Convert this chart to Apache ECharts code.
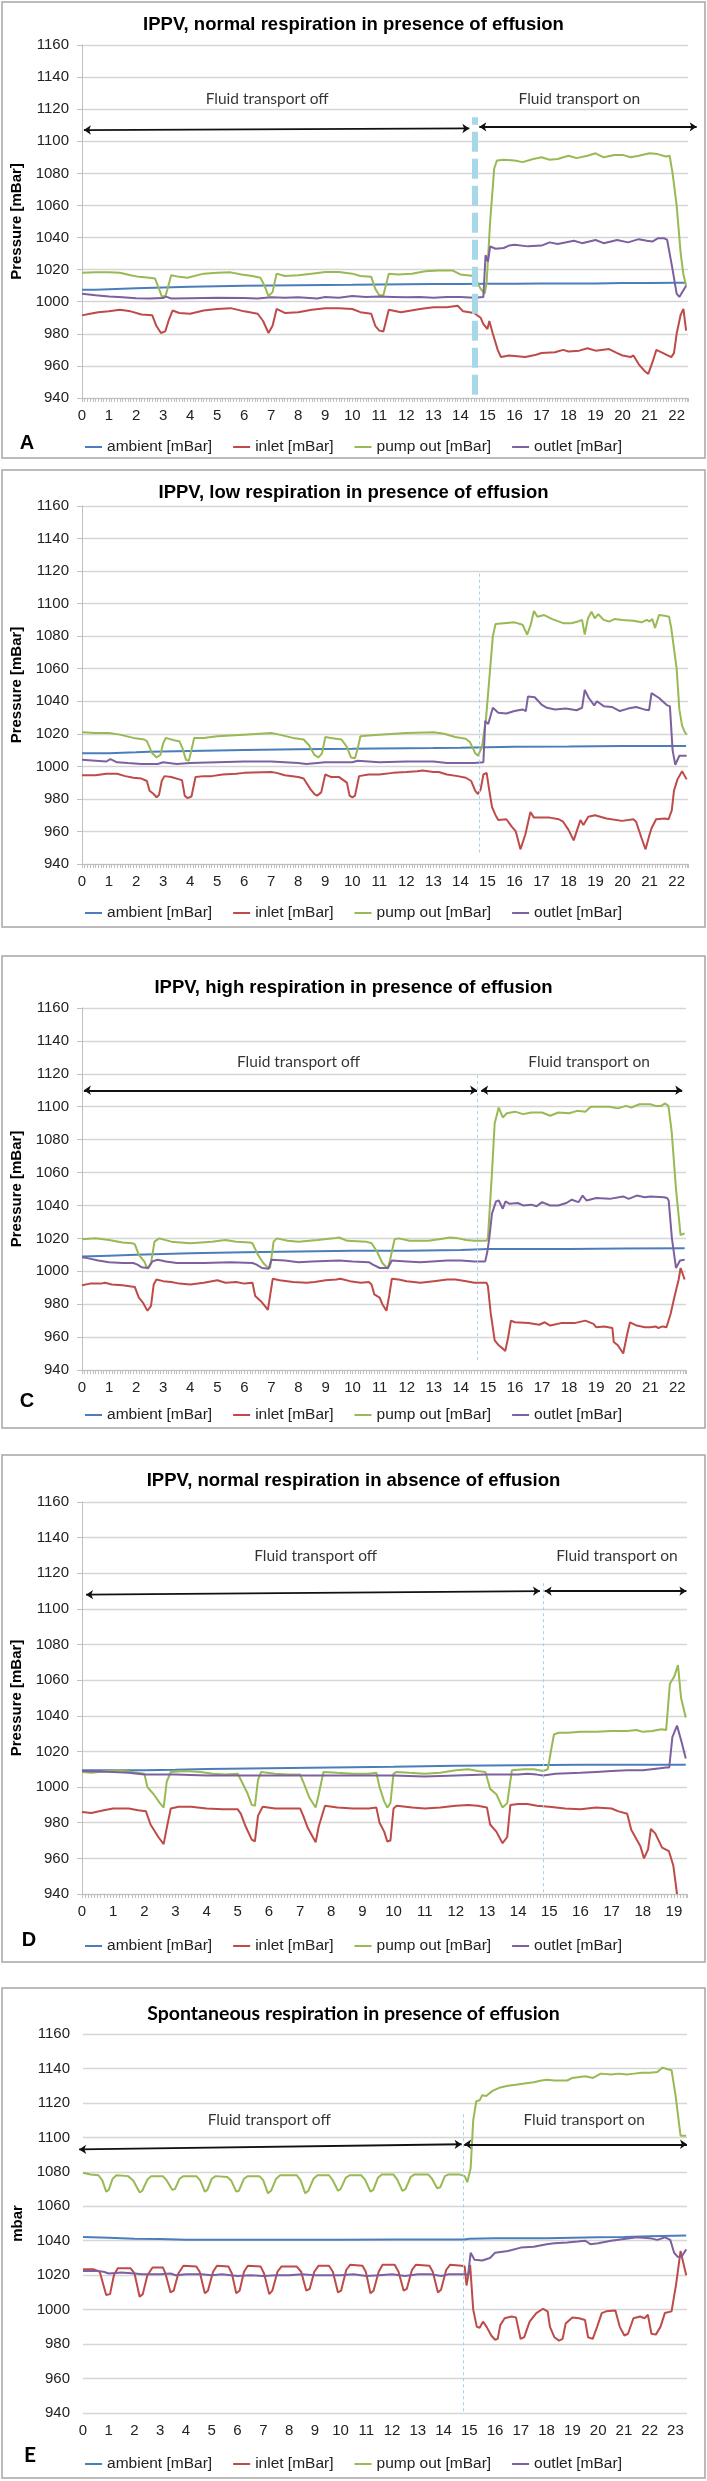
<!DOCTYPE html>
<html><head><meta charset="utf-8">
<script src="https://cdn.jsdelivr.net/npm/echarts@6/dist/echarts.min.js"></script>
<style>html,body{margin:0;padding:0;background:#fff}#c{width:707px;height:2481px}</style>
</head><body><div id="c"></div>
<script>
// ---------- DATA ----------
const SERIES_NAMES = ['ambient [mBar]', 'inlet [mBar]', 'pump out [mBar]', 'outlet [mBar]'];
const TITLES = [
  'IPPV, normal respiration in presence of effusion',
  'IPPV, low respiration in presence of effusion',
  'IPPV, high respiration in presence of effusion',
  'IPPV, normal respiration in absence of effusion',
  'Spontaneous respiration in presence of effusion'
];
const Y_NAMES = ['Pressure [mBar]', 'Pressure [mBar]', 'Pressure [mBar]', 'Pressure [mBar]', 'mbar'];
const LETTERS = ['A', '', 'C', 'D', 'E'];
const Y_MIN = 940, Y_MAX = 1160, Y_STEP = 20;
const X_MAX = [22.42, 22.42, 22.32, 19.42, 23.45];
const TEXT_OFF = 'Fluid transport off', TEXT_ON = 'Fluid transport on';

// Panel A
const A_ambient = [[0,1007.5],[0.5,1007.5],[1,1007.8],[2,1008.4],[3,1008.9],[4,1009.3],[5,1009.6],[6,1009.9],[7,1010.1],[8,1010.3],[9,1010.5],[10,1010.6],[11,1010.8],[12,1010.9],[13,1011],[14,1011.1],[15,1011.2],[16,1011.2],[17,1011.3],[18,1011.3],[19,1011.4],[20,1011.6],[21,1011.7],[22,1011.8],[22.35,1011.8]];
const A_inlet = [[0,991.5],[0.3,992.5],[0.6,993.5],[1,994],[1.4,995],[1.8,994],[2.2,992],[2.6,991.5],[2.75,985],[2.92,980.5],[3.08,981.5],[3.2,988],[3.35,994.5],[3.6,993],[4,992.5],[4.5,994.5],[5,995.5],[5.5,996],[6,994],[6.5,992.5],[6.7,988],[6.9,980.5],[7.05,985],[7.2,995.5],[7.5,993],[8,993.5],[8.5,995],[9,996],[9.5,996],[10,995.5],[10.3,993.5],[10.7,992.5],[10.85,985],[11.0,982],[11.15,981.5],[11.35,995],[11.8,993.5],[12.5,995.5],[13,996.5],[13.5,996.5],[13.9,997.5],[14.1,994],[14.5,993],[14.75,990],[14.85,986],[15.0,983],[15.07,988],[15.2,980],[15.38,970],[15.5,965.5],[15.8,966.5],[16.1,966],[16.4,965.5],[16.8,967],[17.0,968],[17.5,968.5],[17.8,970],[18.0,969],[18.4,969.5],[18.7,971],[19.0,969.5],[19.5,970.5],[19.8,968],[20.0,966.5],[20.3,965.5],[20.4,966.5],[20.6,961],[20.8,957],[20.95,955],[21.1,962],[21.25,970],[21.5,968],[21.8,965.5],[21.9,968],[22.0,980],[22.15,992],[22.25,995.5],[22.35,982]];
const A_pump = [[0,1018],[0.5,1018.3],[1,1018.3],[1.4,1018],[1.8,1016.5],[2.1,1015.5],[2.5,1015],[2.7,1014.5],[2.85,1008],[2.96,1003],[3.1,1004],[3.3,1016.5],[3.6,1015.5],[3.9,1015],[4.5,1017.5],[5,1018],[5.5,1018.3],[5.9,1017],[6.3,1016],[6.6,1015],[6.75,1010],[6.9,1003.5],[7.05,1006],[7.2,1017.5],[7.5,1016],[8,1016.5],[8.5,1017.5],[9,1018.5],[9.5,1018.5],[10,1017.5],[10.3,1016],[10.7,1015.5],[10.85,1008],[11.0,1004],[11.15,1004],[11.35,1017.5],[11.7,1017],[12.2,1017.5],[12.7,1019],[13.2,1019.5],[13.7,1019.5],[14.0,1017],[14.5,1016],[14.75,1008],[14.9,1005],[14.97,1012],[15.1,1050],[15.25,1083],[15.35,1088],[15.6,1088.5],[16,1088],[16.3,1087],[16.7,1089],[17,1090],[17.3,1088.5],[17.6,1089],[18,1091],[18.3,1089.5],[18.7,1091],[19,1092.5],[19.3,1090],[19.7,1091.5],[20,1091.5],[20.3,1090],[20.6,1091],[21,1092.5],[21.3,1092],[21.6,1090.5],[21.74,1091],[21.85,1080],[22.0,1060],[22.15,1030],[22.25,1017],[22.35,1010]];
const A_outlet = [[0,1005],[0.5,1004],[1,1003.3],[1.5,1002.8],[2,1002.2],[2.5,1002],[3,1002.3],[3.1,1003.2],[3.3,1002],[4,1002.2],[5,1002.5],[6,1002.3],[6.5,1002],[7,1002.8],[7.5,1002.5],[8,1002.8],[8.7,1002],[9,1003],[9.5,1002.5],[10,1003.5],[10.5,1003],[11,1003.2],[11.5,1003],[12,1002.8],[12.5,1003],[13,1002.5],[13.5,1003],[14,1003],[14.5,1002.5],[14.85,1003],[14.93,1029],[15.02,1025],[15.1,1034.5],[15.3,1033],[15.6,1033.5],[15.8,1035],[16,1035.5],[16.5,1034.5],[17,1035],[17.3,1037],[17.6,1036],[18.2,1038],[18.5,1036.5],[19,1038.5],[19.3,1036.5],[19.8,1038.5],[20.2,1037],[20.6,1039],[20.9,1038],[21.1,1037.5],[21.3,1039.5],[21.55,1039.5],[21.65,1038.5],[21.85,1020],[22.0,1005],[22.1,1003],[22.35,1010]];

// Panel B
const B_ambient = [[0,1008],[1,1008],[2,1008.6],[2.5,1009],[4,1009.5],[6,1010],[8,1010.5],[10,1010.8],[11,1011],[13,1011.3],[14,1011.5],[16,1012],[18,1012.2],[20,1012.5],[22.35,1012.5]];
const B_inlet = [[0,994.5],[0.5,994.5],[0.9,995.5],[1.3,995.5],[1.6,994],[1.9,993],[2.2,992.5],[2.4,991],[2.5,985],[2.65,983],[2.76,981],[2.85,982.5],[2.95,991],[3.05,994],[3.3,993.5],[3.6,992],[3.7,991.5],[3.8,982],[3.9,980.5],[4.05,981.5],[4.2,993.5],[4.5,994],[4.8,994],[5.2,995],[5.7,995.5],[6.0,996],[7.0,996.5],[7.2,996],[7.5,994.5],[8.0,993.5],[8.2,992.5],[8.45,986],[8.6,983],[8.7,982],[8.85,984],[9.0,995],[9.2,993.5],[9.5,993.5],[9.8,990],[9.9,982],[10.0,981],[10.1,982],[10.25,994],[10.6,995],[11,995],[11.5,996],[12,996.5],[12.4,997],[12.6,997.5],[13.0,996.5],[13.2,996.5],[13.5,995],[13.9,994],[14.2,993],[14.4,991],[14.55,985],[14.65,983],[14.75,986],[14.85,995],[14.97,996],[15.07,985],[15.17,975],[15.3,970],[15.4,967],[15.7,967.5],[15.9,963],[16.05,960],[16.22,949],[16.4,958],[16.59,972],[16.72,968.5],[17.3,968.5],[17.64,967.5],[17.8,966],[18.0,961],[18.19,954.5],[18.44,967],[18.55,964],[18.73,969],[18.98,970],[19.4,968],[19.98,966.5],[20.4,967.5],[20.5,966],[20.62,960],[20.7,956],[20.85,949],[20.98,957],[21.07,962],[21.24,967.5],[21.57,968],[21.7,967.5],[21.82,973],[21.9,985],[22.03,992],[22.2,997],[22.37,992]];
const B_pump = [[0,1021],[0.5,1020.5],[1.0,1020.5],[1.05,1021],[1.4,1019.5],[1.9,1017.5],[2.3,1016.5],[2.4,1015.5],[2.6,1008],[2.76,1005.5],[2.9,1007],[3.0,1014],[3.1,1017.5],[3.4,1016],[3.6,1015.5],[3.72,1011],[3.85,1004],[3.95,1003.5],[4.05,1010],[4.15,1017.5],[4.5,1017.5],[5,1018.5],[6,1019.5],[7,1020.5],[7.3,1019.5],[7.8,1017.5],[8.2,1016.5],[8.4,1013],[8.6,1007],[8.75,1005.5],[8.88,1008],[9.0,1018],[9.2,1017.5],[9.6,1016.5],[9.8,1012],[9.95,1005.5],[10.1,1005],[10.2,1011],[10.3,1018.5],[10.6,1019],[11,1019.5],[12,1020.5],[13,1021],[13.4,1020],[13.8,1018],[14.2,1017],[14.35,1015],[14.55,1008],[14.65,1006.5],[14.8,1012],[14.95,1030],[15.1,1060],[15.2,1080],[15.3,1087.5],[15.6,1088],[16.0,1088.5],[16.3,1087],[16.47,1081],[16.6,1087],[16.72,1095.5],[16.85,1092],[17.1,1093],[17.4,1090.5],[17.8,1088],[18.1,1088],[18.35,1089],[18.5,1090],[18.6,1081],[18.72,1091],[18.85,1095],[18.97,1091],[19.1,1093.5],[19.3,1090],[19.5,1089],[19.7,1090.5],[20.0,1090],[20.4,1089.5],[20.7,1088.5],[20.9,1090],[21.0,1089],[21.1,1090.5],[21.2,1085],[21.35,1093],[21.55,1092.5],[21.72,1092],[21.8,1085],[22.0,1060],[22.1,1035],[22.2,1025],[22.3,1021],[22.37,1019.5]];
const B_outlet = [[0,1004],[0.5,1003.5],[0.9,1003],[1.05,1004.5],[1.3,1002.5],[1.7,1002],[2.2,1001.5],[2.8,1001.5],[3.0,1002.5],[3.5,1001.5],[4,1002],[5,1002.5],[6,1003],[7,1003],[8,1002],[8.3,1001.5],[9,1002.5],[10,1002.5],[10.2,1003.5],[11,1002.5],[12,1003],[13,1003],[13.5,1002],[14.5,1002],[14.85,1002.5],[14.92,1028],[15.03,1026],[15.2,1036],[15.4,1033],[15.7,1032.5],[16.0,1034],[16.3,1035],[16.42,1034],[16.5,1043],[16.75,1042.5],[17.0,1038],[17.2,1036],[17.5,1035],[17.9,1035.5],[18.3,1034.5],[18.5,1036],[18.6,1047],[18.75,1042],[18.95,1037.5],[19.05,1040],[19.3,1037],[19.6,1036.5],[19.9,1034],[20.2,1035.5],[20.5,1036.5],[20.8,1035],[20.98,1034.5],[21.07,1045],[21.35,1042],[21.55,1039],[21.65,1037.5],[21.75,1037],[21.85,1010],[21.95,1001],[22.1,1006.5],[22.37,1006.5]];

// Panel C
const C_ambient = [[0,1009],[1,1009.5],[2,1010],[3,1010.5],[4,1011],[6,1011.5],[8,1012],[10,1012.5],[12,1012.5],[14,1013],[15,1013.5],[18,1013.5],[20,1013.8],[22.27,1014]];
const C_inlet = [[0,991.5],[0.3,992.5],[0.7,992.5],[0.85,993],[1.1,992],[1.5,991.5],[1.95,990.5],[2.1,984],[2.25,981],[2.35,978],[2.42,976],[2.55,979],[2.65,992],[2.75,995],[3.0,994],[3.3,993.5],[3.6,992.5],[4.0,992],[4.5,993],[4.8,994],[5.0,994.5],[5.3,993],[5.7,993.5],[6.0,992.5],[6.3,993],[6.4,985],[6.6,982],[6.8,978],[6.87,976.5],[6.95,985],[7.05,995.5],[7.3,994.5],[7.8,993.5],[8.3,993],[8.6,993.5],[9.0,994.5],[9.4,995],[9.55,995.5],[9.9,994],[10.3,993],[10.6,993.5],[10.7,992],[10.8,986],[11.0,984],[11.1,980],[11.25,976],[11.35,985],[11.45,995.5],[11.7,995],[12.0,994],[12.5,993],[13.0,994],[13.5,995],[13.8,995],[14.2,994],[14.5,993],[14.95,993],[15.0,991],[15.1,975],[15.25,958],[15.4,955],[15.55,953],[15.64,951.5],[15.75,960],[15.85,970],[16.0,969],[16.5,968.5],[16.9,967.5],[17.1,969],[17.3,967],[17.7,968.5],[18.2,968.5],[18.6,970],[18.9,968],[19.0,966],[19.3,966.5],[19.6,965.5],[19.65,957],[19.8,955],[20.0,950],[20.05,951],[20.15,962],[20.25,969],[20.5,967],[20.8,966],[21.0,966],[21.2,966.5],[21.3,965.5],[21.45,966.5],[21.6,966],[21.75,974],[21.9,985],[22.05,995],[22.12,1002],[22.27,995]];
const C_pump = [[0,1019.5],[0.5,1020],[1,1019],[1.5,1017.5],[1.85,1017],[1.95,1016.5],[2.1,1010],[2.3,1006],[2.42,1001.5],[2.55,1005],[2.68,1018],[2.85,1020],[3.3,1018],[4.0,1017],[4.8,1018],[5.3,1019],[5.7,1018],[6.2,1017.5],[6.3,1017],[6.5,1010],[6.7,1005],[6.85,1002.5],[6.95,1002],[7.08,1018],[7.2,1020],[7.6,1018.5],[8,1018],[8.7,1019],[9.3,1020],[9.5,1020.5],[9.8,1018.5],[10.5,1018],[10.7,1017],[10.9,1012],[11.1,1005],[11.3,1001.5],[11.4,1008],[11.55,1019.5],[11.7,1020],[12.1,1018.5],[12.8,1018.5],[13.2,1019.5],[13.6,1020.5],[13.9,1020],[14.2,1019],[14.5,1018.5],[14.95,1018.5],[15.0,1020],[15.15,1060],[15.25,1090],[15.4,1099.5],[15.55,1093.5],[15.7,1096],[16.0,1097],[16.3,1095.5],[16.6,1096.5],[17.0,1096.5],[17.3,1094.5],[17.6,1096.5],[18.0,1096],[18.3,1097.5],[18.6,1097],[18.8,1100],[19.2,1100],[19.5,1100],[19.8,1099],[20.1,1100.5],[20.3,1099.5],[20.6,1101.5],[21.0,1101.5],[21.2,1100.5],[21.4,1100.5],[21.55,1102],[21.67,1100.5],[21.79,1085],[21.95,1050],[22.12,1022],[22.27,1023]];
const C_outlet = [[0,1008.5],[0.2,1008],[0.6,1006.5],[1.0,1005.5],[1.5,1005],[1.9,1005],[2.05,1004],[2.2,1002.5],[2.45,1002],[2.6,1006],[2.8,1007],[3.1,1006],[3.5,1005],[4.5,1005],[5.5,1005.5],[6.3,1005],[6.45,1004],[6.65,1002],[6.9,1001.5],[7.0,1007],[7.5,1006.5],[8,1005.5],[8.5,1006],[9.5,1006.5],[10,1006],[10.6,1005.5],[10.75,1004],[11.0,1002],[11.3,1002],[11.45,1006.5],[12,1006],[12.5,1005.5],[13.5,1006.5],[14.0,1006.5],[14.5,1006],[14.9,1006],[14.98,1012],[15.05,1020],[15.15,1035],[15.3,1042.5],[15.4,1043],[15.55,1038],[15.65,1042.5],[15.8,1041],[16.1,1041.5],[16.3,1040],[16.6,1040.5],[16.8,1039.5],[17.0,1042],[17.3,1040],[17.6,1040],[17.9,1041.5],[18.1,1043.5],[18.35,1042],[18.5,1046],[18.65,1043],[19.0,1044.5],[19.5,1044],[20.0,1045.5],[20.2,1044],[20.5,1046],[20.8,1045],[21.0,1045.5],[21.5,1045],[21.62,1044.5],[21.68,1043],[21.8,1020],[21.95,1002],[22.1,1006.5],[22.27,1007]];

// Panel D
const D_ambient = [[0,1009.5],[1,1009.5],[2,1009.5],[3,1009.8],[4,1010.2],[6,1010.6],[8,1011],[10,1011.4],[12,1012],[14,1012.3],[16,1012.5],[19.38,1012.5]];
const D_inlet = [[0,986],[0.3,985.5],[0.7,987],[1.0,988],[1.5,988],[1.8,987],[2.05,986.5],[2.2,979],[2.45,972],[2.62,968],[2.72,977],[2.85,988],[3.1,989],[3.5,989],[4.0,988],[4.5,987.5],[5.0,987.5],[5.1,985],[5.25,978],[5.45,970.5],[5.55,969.5],[5.65,984],[5.8,989],[6.2,988],[6.5,988],[7.0,988],[7.1,984],[7.25,977],[7.5,969],[7.6,978],[7.8,989.5],[8.2,988.5],[8.7,988],[9.2,988],[9.45,988.5],[9.55,980],[9.7,975],[9.8,969.5],[9.9,970],[10.0,988],[10.1,989.5],[10.6,988.5],[11.0,988],[11.5,988.5],[12.0,989.5],[12.4,990],[12.7,989.5],[13.0,988.5],[13.1,979],[13.3,975],[13.5,968.5],[13.65,972],[13.75,990],[14.0,990.5],[14.3,990.5],[14.6,989.5],[15.0,989],[15.5,988],[16.0,987.5],[16.5,988.5],[17.0,988],[17.2,986.5],[17.5,985],[17.63,976],[17.92,967],[18.04,960],[18.17,965],[18.26,976.5],[18.4,974],[18.62,966],[18.84,964],[18.98,956],[19.1,940]];
const D_pump = [[0,1008.5],[0.3,1008],[0.8,1009],[1.2,1009.5],[1.6,1008.5],[2.0,1007.5],[2.1,1000],[2.3,996],[2.5,991],[2.62,988.5],[2.72,1003],[2.85,1008.5],[3.3,1009],[3.8,1008.5],[4.2,1007.5],[4.6,1007],[5.0,1007.5],[5.1,1004],[5.3,997],[5.45,990],[5.55,989.5],[5.65,1004],[5.75,1008.5],[6.2,1007.5],[6.6,1007],[7.0,1007],[7.1,1003],[7.3,994],[7.5,988.5],[7.6,996],[7.75,1008.5],[8.2,1008],[8.7,1007.5],[9.2,1007.5],[9.45,1008],[9.55,1000],[9.7,992],[9.8,988.5],[9.9,991],[10.0,1007.5],[10.1,1008.5],[10.5,1008],[11.0,1007.5],[11.5,1008],[12.0,1009.5],[12.4,1010],[12.7,1009],[12.95,1008.5],[13.1,999],[13.3,996],[13.5,988.5],[13.65,991],[13.8,1009.5],[14.2,1010],[14.5,1010],[14.8,1009],[14.95,1010],[15.05,1020],[15.15,1029.5],[15.3,1030.5],[15.6,1030.5],[16,1031],[16.5,1031],[17,1031.5],[17.5,1031.5],[17.8,1032],[18.0,1031],[18.3,1031.5],[18.6,1032.5],[18.75,1032],[18.87,1058],[19.01,1062],[19.13,1068.5],[19.23,1050],[19.38,1039]];
const D_outlet = [[0,1009],[1,1008.5],[1.5,1008],[2,1007],[3,1007],[4,1006.5],[6,1006.5],[8,1006.5],[10,1006.5],[11,1006],[12,1006.5],[13,1007],[14,1007],[14.3,1007.5],[14.6,1007],[14.8,1006.5],[15.2,1007.5],[16,1008],[16.5,1008.5],[17,1009],[17.5,1009.5],[18,1009.5],[18.5,1010.5],[18.75,1011],[18.85,1011],[18.95,1028],[19.1,1034.5],[19.25,1025],[19.38,1016]];

// Panel E
const E_ambient = [[0,1042.2],[1,1041.8],[2,1041.2],[3,1041],[4,1040.6],[6,1040.5],[8,1040.5],[10,1040.5],[12,1040.7],[14,1040.7],[14.8,1040.7],[15,1041.2],[16,1041.4],[18,1041.5],[20,1042],[21,1042.2],[22,1042.6],[23.42,1043]];
const E_inlet = [[0,1023.5],[0.4,1023.5],[0.65,1022],[0.9,1008.5],[1.05,1009],[1.2,1020],[1.35,1024],[1.85,1024],[2.0,1021],[2.2,1007.5],[2.32,1009],[2.5,1020],[2.7,1024.5],[3.1,1024.5],[3.2,1021],[3.4,1010],[3.52,1011],[3.7,1021],[3.9,1025.5],[4.4,1025],[4.53,1022],[4.73,1009.5],[4.85,1011],[5.05,1022],[5.2,1025.5],[5.65,1025],[5.78,1021],[5.95,1009.5],[6.08,1011],[6.25,1022],[6.4,1025.5],[6.9,1025],[7.03,1021],[7.23,1009],[7.35,1011],[7.55,1022],[7.7,1025],[8.3,1025],[8.47,1022],[8.67,1011],[8.8,1012],[8.98,1022],[9.15,1025.5],[9.55,1025.5],[9.7,1022],[9.9,1010],[10.02,1011],[10.22,1023],[10.37,1026],[10.85,1025.5],[10.98,1022],[11.16,1009.5],[11.28,1011],[11.48,1022],[11.63,1026],[12.1,1026],[12.25,1022],[12.45,1011],[12.57,1012],[12.77,1023],[12.92,1026],[13.45,1025.5],[13.58,1022],[13.78,1010],[13.9,1011.5],[14.1,1023],[14.25,1026],[14.7,1025.5],[14.82,1025],[14.89,1014],[15.03,1026],[15.15,1000],[15.29,990],[15.4,989.5],[15.53,993],[15.67,990],[15.85,985],[16.0,982.5],[16.1,983],[16.2,991],[16.37,995],[16.64,996],[16.81,995.5],[16.99,983],[17.13,984],[17.34,993],[17.6,998],[17.86,1000.5],[18.04,999],[18.13,990],[18.3,984],[18.48,982],[18.62,983],[18.74,992],[19.0,995.5],[19.26,995],[19.49,994],[19.61,984],[19.79,983],[19.96,990],[20.14,998],[20.31,999],[20.67,999.5],[20.84,990],[21.02,985],[21.16,986],[21.37,995],[21.63,996],[21.8,995],[21.93,997],[22.07,986],[22.24,985.5],[22.42,990],[22.59,998],[22.85,999],[23.03,1015],[23.2,1034],[23.42,1020]];
const E_pump = [[0,1079.5],[0.3,1078.5],[0.6,1078],[0.75,1075],[0.9,1068.5],[1.0,1069.5],[1.15,1076],[1.3,1078],[1.75,1077.5],[1.95,1075],[2.2,1068],[2.3,1069],[2.5,1075.5],[2.65,1077.5],[3.1,1077.5],[3.25,1075],[3.47,1069.5],[3.57,1070],[3.75,1076],[3.9,1077.5],[4.4,1077.5],[4.55,1075],[4.73,1068.5],[4.83,1069.5],[5.0,1076],[5.15,1077.5],[5.6,1077],[5.75,1075],[5.95,1068.5],[6.05,1069],[6.25,1076],[6.4,1077.5],[6.85,1077.5],[7.0,1075],[7.18,1067.5],[7.3,1069],[7.5,1076],[7.65,1078],[8.3,1078],[8.45,1075],[8.63,1067.5],[8.75,1069],[8.95,1076],[9.1,1078],[9.55,1078],[9.7,1075],[9.9,1069],[10.0,1070],[10.2,1076.5],[10.35,1078],[10.8,1078],[10.95,1075.5],[11.16,1068.5],[11.27,1069.5],[11.45,1076.5],[11.6,1078.5],[12.05,1078.5],[12.2,1075.5],[12.4,1069],[12.52,1070],[12.72,1077],[12.87,1078.5],[13.4,1078.5],[13.55,1076],[13.75,1070.5],[13.87,1071],[14.05,1077.5],[14.2,1078.5],[14.6,1078.5],[14.82,1077.5],[14.92,1074],[15.05,1082],[15.15,1110],[15.27,1121],[15.4,1121.5],[15.5,1124.5],[15.65,1124],[15.9,1127],[16.2,1129],[16.5,1130],[16.8,1130.5],[17.0,1131],[17.5,1132],[17.8,1133],[18.0,1133.5],[18.3,1133],[18.8,1133],[19.0,1134.5],[19.5,1135.5],[19.8,1134.5],[20.1,1137],[20.5,1136.5],[20.8,1137],[21.1,1136.5],[21.4,1137],[21.7,1137.5],[22.0,1137.5],[22.3,1138],[22.5,1140.5],[22.7,1139.5],[22.85,1139],[23.0,1125],[23.2,1101],[23.42,1101]];
const E_outlet = [[0,1022.5],[0.5,1022.5],[0.8,1022],[1.0,1021],[1.5,1021.5],[2.0,1021],[2.3,1020.5],[3.0,1020.5],[3.4,1021],[3.6,1020],[4.0,1020.5],[4.6,1020.5],[5.0,1020],[5.4,1020.5],[6.0,1019.5],[6.5,1020],[7.0,1019.5],[7.5,1020],[8.0,1020],[8.5,1020.5],[9.0,1020],[10.0,1020],[10.5,1020.5],[11.0,1019.5],[11.5,1020],[12.0,1020.5],[12.5,1019.5],[13.0,1020.5],[13.5,1020.5],[13.9,1019.5],[14.2,1020.5],[14.85,1020.5],[14.95,1020],[15.05,1033],[15.2,1029],[15.5,1028.5],[15.8,1030],[16.0,1033],[16.5,1034],[17.0,1036],[17.5,1036.5],[18.0,1038],[18.3,1038.5],[18.8,1039],[19.2,1039.5],[19.5,1040],[19.7,1038],[20.0,1038.5],[20.5,1040],[21.0,1041],[21.5,1042],[22.0,1041.5],[22.3,1040.5],[22.6,1042],[22.8,1040.5],[22.95,1033],[23.1,1030.5],[23.25,1031],[23.42,1035]];

// Annotations (data coordinates): separator line [x, yFrom, yTo], arrows [x1,y1,x2,y2], labels [x,y,text]
const A_sep = [14.52, 942, 1115], B_sep = [14.68, 947, 1120], C_sep = [14.6, 946, 1119], D_sep = [14.8, 941, 1115], E_sep = [14.75, 941, 1114];
const A_arrows = [[0.07,1107,14.33,1108],[14.7,1109,22.74,1109]];
const B_arrows = [];
const C_arrows = [[0.07,1110,14.6,1110],[14.75,1110,22.18,1110]];
const D_arrows = [[0.13,1108,14.7,1110],[14.85,1110,19.4,1110]];
const E_arrows = [[-0.15,1093,14.7,1096],[14.8,1096,23.45,1096]];
const A_labels = [[6.85,1126.5,TEXT_OFF],[18.4,1126.5,TEXT_ON]];
const B_labels = [];
const C_labels = [[8.0,1127,TEXT_OFF],[18.74,1127,TEXT_ON]];
const D_labels = [[7.5,1129.5,TEXT_OFF],[17.17,1129.5,TEXT_ON]];
const E_labels = [[7.23,1110,TEXT_OFF],[19.46,1110,TEXT_ON]];

// ---------- STYLE / LAYOUT ----------
const COLORS = ['#4a7ebb', '#be4b48', '#98b954', '#7d60a0'];
const LAYOUT = [
  {box:[2,2,703,456], titleTop:10, grid:{left:82,right:19,top:45,height:353}, legendTop:434, letter:[27,443], axisStyle:'excel', thick:true},
  {box:[2,470,703,457], titleTop:478, grid:{left:82,right:19,top:506,height:358}, legendTop:900, letter:null, axisStyle:'excel', thick:false},
  {box:[2,956,703,472], titleTop:973, grid:{left:82,right:21,top:1008,height:362}, legendTop:1402, letter:[27,1401], axisStyle:'excel', thick:false},
  {box:[2,1455,703,507], titleTop:1466, grid:{left:82,right:20,top:1502,height:392}, legendTop:1933, letter:[29,1940], axisStyle:'excel', thick:false},
  {box:[2,1988,703,490], titleTop:1999, grid:{left:83,right:20,top:2034,height:379}, legendTop:2451, letter:[30,2455], axisStyle:'plain', thick:false}
];
const PANEL_SERIES = [
  [A_ambient, A_inlet, A_pump, A_outlet],
  [B_ambient, B_inlet, B_pump, B_outlet],
  [C_ambient, C_inlet, C_pump, C_outlet],
  [D_ambient, D_inlet, D_pump, D_outlet],
  [E_ambient, E_inlet, E_pump, E_outlet]
];
const PANEL_SEP = [A_sep, B_sep, C_sep, D_sep, E_sep];
const PANEL_ARROWS = [A_arrows, B_arrows, C_arrows, D_arrows, E_arrows];
const PANEL_LABELS = [A_labels, B_labels, C_labels, D_labels, E_labels];

const SANS = '"Liberation Sans", Arial, sans-serif';
const CAL = 'Lato, "Open Sans", sans-serif';

const chart = echarts.init(document.getElementById('c'), null, {width:707, height:2481, renderer:'canvas'});
const grids = [], xAxes = [], yAxes = [], titles = [], legends = [], series = [], graphics = [];

LAYOUT.forEach((L, i) => {
  const excel = L.axisStyle === 'excel';
  graphics.push({type:'rect', shape:{x:L.box[0], y:L.box[1], width:L.box[2], height:L.box[3]},
    style:{fill:'none', stroke:'#a6a6a6', lineWidth:1.5}, silent:true, z:-1});
  if (L.letter && LETTERS[i]) {
    graphics.push({type:'text', x:L.letter[0], y:L.letter[1], silent:true,
      style:{text:LETTERS[i], fill:'#000', fontSize:i === 4 ? 21 : 20, fontWeight:'bold',
             fontFamily:i === 4 ? CAL : SANS, align:'center', verticalAlign:'middle'}});
  }
  titles.push({text:TITLES[i], left:'center', top:L.titleTop,
    textStyle:{fontSize:i === 4 ? 19.5 : 18.5, fontWeight:'bold', fontFamily:i === 4 ? CAL : SANS, color:'#000'}});
  legends.push({top:L.legendTop, left:'center', data:SERIES_NAMES, icon:'rect', itemWidth:17, itemHeight:2,
    itemGap:21, selectedMode:false, textStyle:{fontSize:15.5, fontFamily:SANS, color:'#222'}});
  grids.push(Object.assign({containLabel:false}, L.grid));
  xAxes.push({type:'value', gridIndex:i, min:0, max:X_MAX[i], interval:1,
    axisLine:{show:excel, lineStyle:{color:'#bfbfbf', width:1}},
    axisTick:{show:excel, length:4, lineStyle:{color:'#bfbfbf'}},
    minorTick:{show:excel, splitNumber:10, length:4, lineStyle:{color:'#bfbfbf'}},
    splitLine:{show:false},
    axisLabel:{margin:10, fontSize:15, fontFamily:SANS, color:'#222',
      formatter:v => (Math.abs(v - Math.round(v)) < 1e-6 ? String(Math.round(v)) : '')}});
  yAxes.push({type:'value', gridIndex:i, min:Y_MIN, max:Y_MAX, interval:Y_STEP,
    name:Y_NAMES[i], nameLocation:'middle', nameGap:45, nameRotate:90,
    nameTextStyle:{fontSize:15, fontWeight:'bold', fontFamily:SANS, color:'#000'},
    axisLine:{show:excel, lineStyle:{color:'#bfbfbf', width:1}},
    axisTick:{show:excel, length:5, lineStyle:{color:'#bfbfbf'}},
    splitLine:{show:true, lineStyle:{color:'#d6d6d6', width:1.3}},
    axisLabel:{margin:13, fontSize:15, fontFamily:SANS, color:'#222', formatter:v => String(v)}});

  PANEL_SERIES[i].forEach((d, k) => {
    series.push({type:'line', name:SERIES_NAMES[k], xAxisIndex:i, yAxisIndex:i, data:d,
      showSymbol:false, symbol:'none', lineStyle:{color:COLORS[k], width:2}, itemStyle:{color:COLORS[k]},
      z:2 + k, animation:false, silent:true});
  });

  const sep = PANEL_SEP[i];
  series.push({type:'lines', coordinateSystem:'cartesian2d', xAxisIndex:i, yAxisIndex:i, clip:false, silent:true, z:10,
    symbol:['none','none'],
    lineStyle:L.thick ? {color:'#a7d8ea', width:6, type:[20,7], opacity:1}
                      : {color:'#9fd5e8', width:1, type:[3,3], opacity:1},
    data:[{coords:[[sep[0], sep[1]], [sep[0], sep[2]]]}], animation:false});
  if (PANEL_ARROWS[i].length) {
    series.push({type:'lines', coordinateSystem:'cartesian2d', xAxisIndex:i, yAxisIndex:i, clip:false, silent:true, z:11,
      symbol:['arrow','arrow'], symbolSize:7,
      lineStyle:{color:'#111', width:1.8, opacity:1},
      data:PANEL_ARROWS[i].map(a => ({coords:[[a[0], a[1]], [a[2], a[3]]]})), animation:false});
  }
  if (PANEL_LABELS[i].length) {
    series.push({type:'scatter', xAxisIndex:i, yAxisIndex:i, clip:false, silent:true, z:12, symbolSize:0,
      data:PANEL_LABELS[i].map(t => ({value:[t[0], t[1]], name:t[2]})),
      label:{show:true, position:'inside', formatter:p => p.name, color:'#000', fontSize:15.5, fontFamily:CAL},
      animation:false});
  }
});

chart.setOption({
  animation:false, backgroundColor:'#fff',
  title:titles, legend:legends, grid:grids, xAxis:xAxes, yAxis:yAxes, series:series, graphic:graphics
});
</script></body></html>
